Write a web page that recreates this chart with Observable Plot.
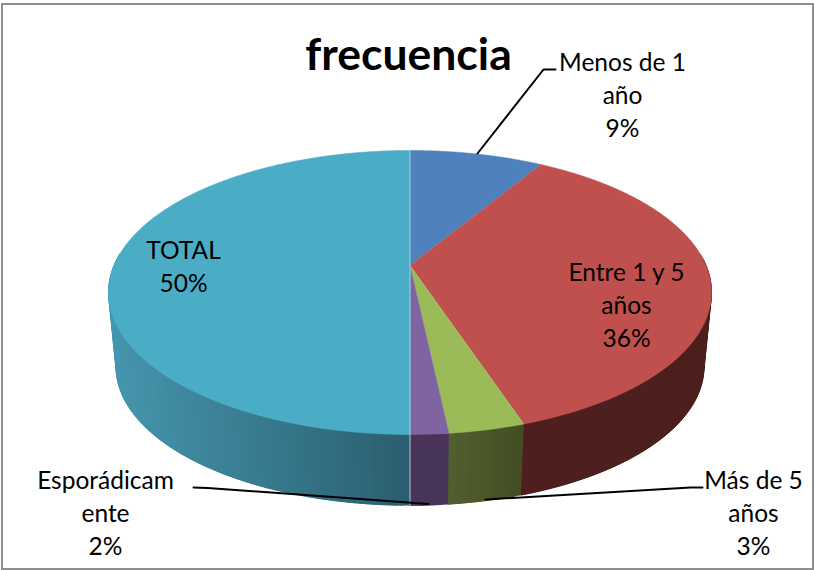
<!DOCTYPE html>
<html>
<head>
<meta charset="utf-8">
<script src="https://cdn.jsdelivr.net/npm/d3@7"></script>
<script src="https://cdn.jsdelivr.net/npm/@observablehq/plot@0.6"></script>
<style>
html,body{margin:0;padding:0;background:#fff}
svg{display:block}
</style>
</head>
<body>
<div id="chart"></div>
<script>
// Data
const chartTitle = "frecuencia";
const categories = ["Menos de 1 año", "Entre 1 y 5 años", "Más de 5 años", "Esporádicamente", "TOTAL"];
const labelLines = [["Menos de 1", "año"], ["Entre 1 y 5", "años"], ["Más de 5", "años"], ["Esporádicam", "ente"], ["TOTAL"]];
const shares = [8.6, 36.3, 3.4, 1.7, 50];

// Styles
const topColors = ["#4F81BD", "#C0504D", "#9BBB59", "#8064A2", "#4BACC6"];
const sideFrom = ["#3A5F8C", "#4E1F1E", "#525F2E", "#4A3558", "#4596AE"];
const sideTo   = ["#3A5F8C", "#4C1F1D", "#434D24", "#483458", "#2B5E6F"];

// Layout of the tilted pie (a circle seen in perspective)
const cx = 409.5, hubTop = 265, hubBottom = 340;
const A = 296, B = 136.9, k = 0.19, s = 0.975;
const project = (theta, hub, scale) => {
  const u = Math.sin(theta), v = Math.cos(theta), w = 1 + k * v;
  return [cx + scale * A * u / w, hub - scale * B * v / w];
};
const rad = (d) => d * Math.PI / 180;

// Cumulative angles from the shares, clockwise from 12 o'clock
const total = d3.sum(shares);
let acc = 0;
const spans = shares.map((v, i) => {
  const start = acc / total * 360; acc += v;
  return {i, start, end: acc / total * 360};
});

const topFaces = spans.flatMap(({i, start, end}) => {
  const pts = [{id: i, color: topColors[i], p: [cx, hubTop]}];
  for (let a = start; a < end; a += 0.5) pts.push({id: i, color: topColors[i], p: project(rad(a), hubTop, 1)});
  pts.push({id: i, color: topColors[i], p: project(rad(end), hubTop, 1)});
  return pts;
});

// Side wall, built of overlapping strips so each slice can carry its shading
const sideStrips = [];
const xRange = {min: 117, max: 410};
const strip = (id, color, a, b) => {
  for (const p of [project(rad(a), hubTop, 1), project(rad((a + b) / 2), hubTop, 1), project(rad(b), hubTop, 1),
                   project(rad(b), hubBottom, s), project(rad((a + b) / 2), hubBottom, s), project(rad(a), hubBottom, s)]) {
    sideStrips.push({id, color, p});
  }
};
for (const {i, start, end} of spans) {
  const a0 = Math.max(start, 85), a1 = Math.min(end, 275);
  if (a0 >= a1) continue;
  const t0 = project(rad(a0), hubBottom, s)[0], t1 = project(rad(a1), hubBottom, s)[0];
  const mix = d3.interpolateRgb(sideFrom[i], sideTo[i]);
  for (let a = a0; a < a1; a += 1) {
    const b = Math.min(a + 3, a1);
    const xm = project(rad(Math.min(a + 0.5, a1)), hubBottom, s)[0];
    const t = i === 4 ? (xm - xRange.min) / (xRange.max - xRange.min) : (xm - Math.min(t0, t1)) / (Math.abs(t1 - t0) || 1);
    strip(`${i}-${a}`, mix(Math.max(0, Math.min(1, t))), a, b);
  }
}

// Light seam where the first and last slices meet
const seam = [project(0, hubTop, 1), project(Math.PI, hubTop, 1), project(Math.PI, hubBottom, s)];

const labelSpots = [[622, 93], [626, 303], [753, 511], [105, 511], [183, 264]];
const labels = categories.map((c, i) => ({
  text: [...labelLines[i], `${Math.round(shares[i])}%`].join("\n"),
  x: labelSpots[i][0], y: labelSpots[i][1]
}));

const leaders = [
  [[477, 153], [543, 69], [555, 69]],
  [[485, 499], [690, 487], [702, 487]],
  [[193, 487], [207, 487.5], [428, 503.5]]
].flatMap((pts, id) => pts.map((p) => ({id, p})));

const frameBox = [{x1: 2, x2: 813, y1: 4, y2: 569}];
const font = "Lato, Carlito, Calibri, sans-serif";

const polyOpts = {x: (d) => d.p[0], y: (d) => d.p[1], z: "id", fill: "color", curve: "linear"};

const chart = Plot.plot({
  width: 815, height: 570,
  margin: 0,
  style: {background: "#fff", fontFamily: font},
  x: {domain: [0, 815], range: [0, 815], axis: null},
  y: {domain: [0, 570], range: [0, 570], axis: null},
  color: {type: "identity"},
  marks: [
    Plot.rect(frameBox, {x1: "x1", x2: "x2", y1: "y1", y2: "y2", fill: "#fff", stroke: "#8E8E8E", strokeWidth: 2}),
    Plot.line(sideStrips, {...polyOpts, stroke: "color", strokeWidth: 0.5}),
    Plot.line(topFaces, {...polyOpts, stroke: "color", strokeWidth: 0.5}),
    Plot.line(seam, {x: (d) => d[0], y: (d) => d[1], stroke: "#AFCBE0", strokeWidth: 1}),
    Plot.line(leaders, {x: (d) => d.p[0], y: (d) => d.p[1], z: "id", stroke: "#000", strokeWidth: 2, curve: "linear"}),
    Plot.text(labels, {x: "x", y: "y", text: "text", fontSize: 24.5, lineHeight: 1.35, fill: "#000", fontFamily: font}),
    Plot.text([chartTitle], {x: () => 408, y: () => 55, text: (d) => d, fontSize: 44.5, fontWeight: 700, fill: "#000", fontFamily: font})
  ]
});
document.getElementById("chart").append(chart);
</script>
</body>
</html>
